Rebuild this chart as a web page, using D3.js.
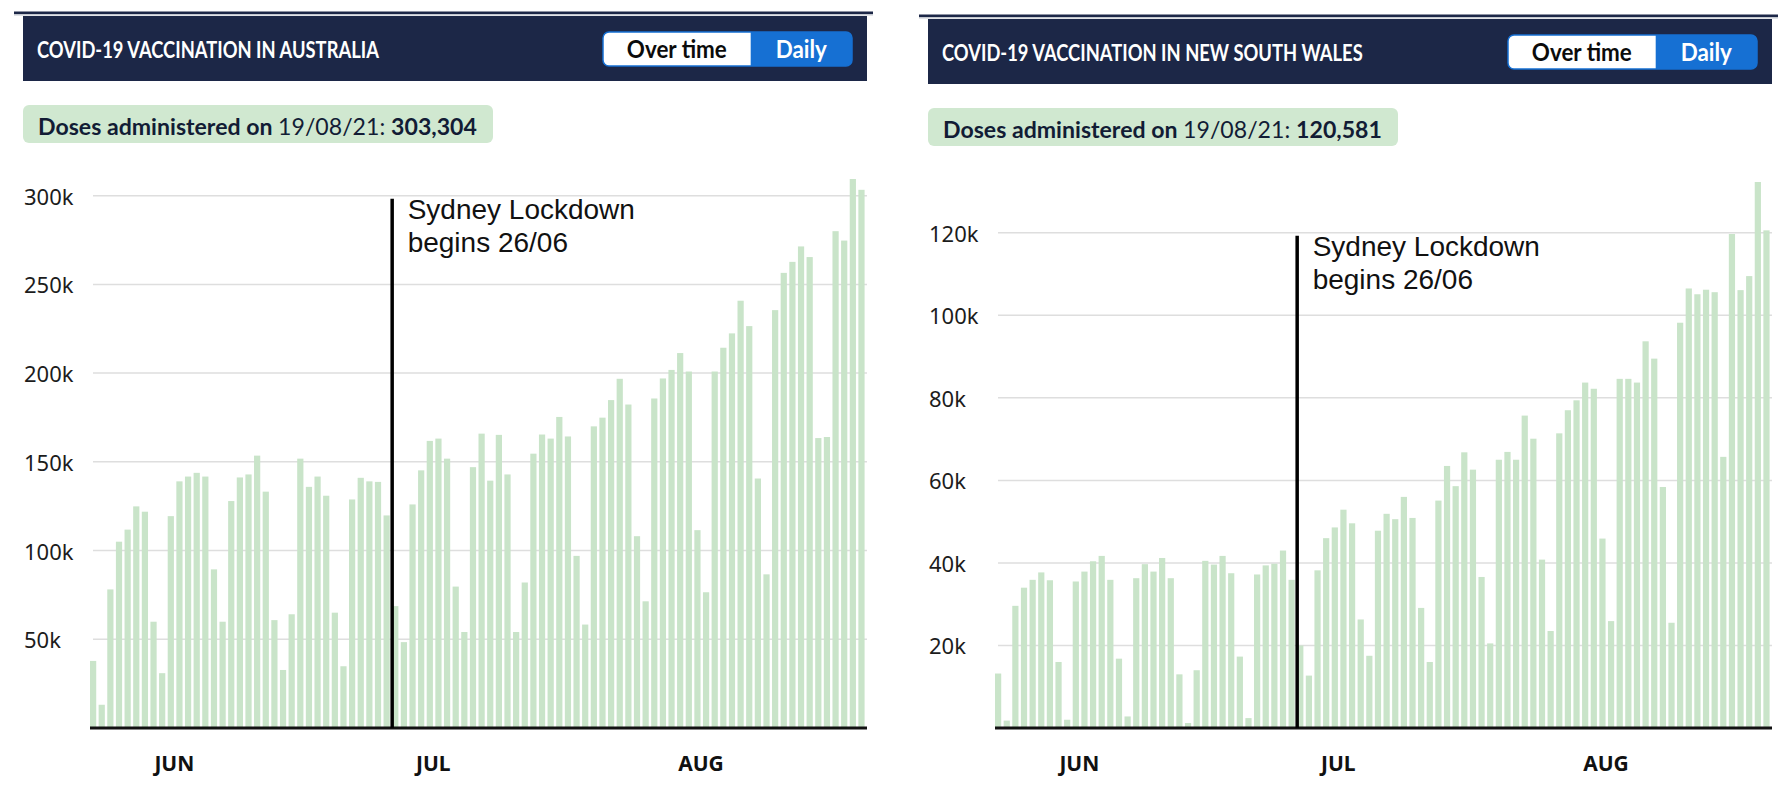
<!DOCTYPE html>
<html>
<head>
<meta charset="utf-8">
<script src="https://cdn.jsdelivr.net/npm/d3@7"></script>
<style>
  html, body { margin: 0; padding: 0; background: #fff; }
  svg { display: block; }
</style>
</head>
<body>
<div id="chart"></div>
<script>
// days shown in both charts (one bar per day)
const firstDay = new Date(2021, 4, 22);
const lastDay = new Date(2021, 7, 19);
const lockdownDay = new Date(2021, 5, 26);

const regions = ["AUSTRALIA", "NEW SOUTH WALES"];
const monthNames = ["JUN", "JUL", "AUG"];
const toggleLabels = ["Over time", "Daily"];
const lockdownNote = ["Sydney Lockdown", "begins 26/06"];

const ausTicks = [50000, 100000, 150000, 200000, 250000, 300000];
const nswTicks = [20000, 40000, 60000, 80000, 100000, 120000];

const ausDoses = [
  37800, 13100, 78100, 105000, 111800, 124900, 121900, 59900, 30900, 119400,
  139000, 141700, 143800, 141700, 89400, 59900, 127900, 141200, 142900, 153500,
  133200, 60800, 32700, 64100, 151800, 135900, 141700, 130900, 65000, 34800,
  128800, 141000, 139000, 138700, 119800, 68700, 48400, 126000, 145200, 161800,
  163100, 151800, 79700, 54100, 147000, 165900, 139400, 165200, 142900, 54100,
  82000, 154600, 165400, 163100, 175300, 164300, 97000, 58300, 170000, 174900,
  184800, 196800, 182300, 108100, 71400, 185700, 197000, 201800, 211300, 200900,
  111500, 76500, 200900, 214300, 222400, 240800, 226500, 140600, 86600, 235500,
  256500, 262700, 271400, 265400, 163400, 164000, 280000, 274700, 309400, 303304
];

const nswDoses = [
  13200, 1800, 29600, 34000, 35900, 37700, 35800, 16000, 2000, 35500,
  37900, 40400, 41700, 35900, 16800, 2800, 36300, 39700, 37900, 41200,
  36300, 13000, 1200, 14000, 40500, 39600, 41700, 37500, 17300, 2400,
  37200, 39400, 39800, 43000, 35900, 20000, 12700, 38200, 46000, 48600,
  52900, 49600, 26300, 17500, 47800, 51900, 50600, 56000, 50900, 29100,
  16000, 55100, 63500, 58600, 66800, 62600, 36600, 20500, 65000, 66900,
  65000, 75700, 70100, 40800, 23500, 71400, 77000, 79400, 83700, 82200,
  45900, 25900, 84600, 84600, 83700, 93700, 89500, 58400, 25500, 98200,
  106500, 105100, 106200, 105600, 65700, 119700, 106100, 109500, 132300, 120581
];

const days = d3.timeDay.range(firstDay, d3.timeDay.offset(lastDay, 1));

const svg = d3.select("#chart")
  .append("svg")
  .attr("width", 1790)
  .attr("height", 812);

// horizontal squeeze factors, measured on the first panel and reused on the second
const squeeze = {};

class PanelBuilder {
  constructor(root, left, top) {
    this._root = root;
    this._left = left;
    this._top = top;
    this._setDefaults();
  }

  _setDefaults() {
    this._width = 844;
    this._plotLeft = 67;
    this._baseline = 728;
    this._plotTop = 179;
    this._navy = "#1c2747";
    this._ink = "#121c35";
    this._blue = "#1670d3";
    this._green = "#c9e4c9";
    this._boxGreen = "#d0e8d0";
  }

  // squeeze a text horizontally so it takes `target` px (first time), then reuse the factor
  _fit(text, key, target, x, y, anchor) {
    const natural = text.node().getComputedTextLength();
    if (squeeze[key] === undefined) squeeze[key] = target / natural;
    const k = squeeze[key];
    const shift = anchor === "middle" ? -natural * k / 2 : 0;
    text.attr("transform", `translate(${x + shift},${y}) scale(${k},1)`);
  }

  _buildHeader(region, doses) {
    const g = this._root.append("g").attr("class", "header");
    const L = this._left, T = this._top;

    g.append("rect")
      .attr("x", L - 9).attr("y", T + 11.5)
      .attr("width", this._width + 15).attr("height", 2.5)
      .attr("fill", this._navy);
    g.append("rect")
      .attr("x", L - 9).attr("y", T + 14)
      .attr("width", this._width + 15).attr("height", 1.5)
      .attr("fill", "#c3c7cf");

    g.append("rect")
      .attr("x", L).attr("y", T + 16)
      .attr("width", this._width).attr("height", 65)
      .attr("fill", this._navy);

    const title = g.append("text")
      .attr("font-family", "Lato, 'Open Sans', sans-serif")
      .attr("font-weight", 700)
      .attr("font-size", 23)
      .attr("fill", "#fff")
      .text("COVID-19 VACCINATION IN " + region);
    this._fit(title, "title", 342, L + 14, T + 58);

    // Over time / Daily toggle
    const tx = L + 580, ty = T + 32, tw = 249, th = 34, split = 147.7, r = 6;
    g.append("rect")
      .attr("x", tx).attr("y", ty)
      .attr("width", tw).attr("height", th)
      .attr("rx", r)
      .attr("fill", this._blue);
    const path = d3.path();
    path.moveTo(tx + split, ty);
    path.lineTo(tx + r, ty);
    path.arcTo(tx, ty, tx, ty + r, r);
    path.lineTo(tx, ty + th - r);
    path.arcTo(tx, ty + th, tx + r, ty + th, r);
    path.lineTo(tx + split, ty + th);
    path.closePath();
    g.append("path").attr("d", path.toString()).attr("fill", "#fff");
    g.append("rect")
      .attr("x", tx).attr("y", ty)
      .attr("width", tw).attr("height", th)
      .attr("rx", r)
      .attr("fill", "none")
      .attr("stroke", this._blue)
      .attr("stroke-width", 1.5);

    const over = g.append("text")
      .attr("font-family", "Lato, 'Open Sans', sans-serif")
      .attr("font-weight", 700)
      .attr("font-size", 24)
      .attr("fill", "#0b0b0b")
      .text(toggleLabels[0]);
    this._fit(over, "toggle", 100, tx + split / 2, T + 57.5, "middle");
    const daily = g.append("text")
      .attr("font-family", "Lato, 'Open Sans', sans-serif")
      .attr("font-weight", 700)
      .attr("font-size", 24)
      .attr("fill", "#fff")
      .text(toggleLabels[1]);
    this._fit(daily, "toggle", 52, tx + split + (tw - split) / 2, T + 57.5, "middle");

    // doses box
    g.append("rect")
      .attr("x", L).attr("y", T + 105)
      .attr("width", 470).attr("height", 38)
      .attr("rx", 6)
      .attr("fill", this._boxGreen);
    const line = g.append("text")
      .attr("font-family", "Lato, 'Open Sans', sans-serif")
      .attr("font-size", 23)
      .attr("fill", this._ink);
    line.append("tspan").attr("font-weight", 700).text("Doses administered on ");
    line.append("tspan").attr("font-weight", 400).text(d3.timeFormat("%d/%m/%y")(lastDay) + ": ");
    line.append("tspan").attr("font-weight", 700).text(d3.format(",")(doses[doses.length - 1]));
    this._fit(line, "doses", 439, L + 15, T + 134.5);
  }

  _buildScales(doses) {
    this._x = d3.scaleTime()
      .domain([firstDay, d3.timeDay.offset(lastDay, 1)])
      .range([this._left + this._plotLeft, this._left + this._width]);
    this._step = (this._x.range()[1] - this._x.range()[0]) / days.length;
    this._y = d3.scaleLinear()
      .domain([0, d3.max(doses)])
      .range([this._baseline, this._plotTop + this._top]);
  }

  _buildGrid(ticks) {
    const g = this._root.append("g").attr("class", "grid");
    g.selectAll("line")
      .data(ticks)
      .enter()
      .append("line")
      .attr("x1", this._left + this._plotLeft + 3)
      .attr("x2", this._left + this._width)
      .attr("y1", d => this._y(d))
      .attr("y2", d => this._y(d))
      .attr("stroke", "#dedede")
      .attr("stroke-width", 1.5);

    g.selectAll("text")
      .data(ticks)
      .enter()
      .append("text")
      .attr("x", this._left + 1)
      .attr("y", d => this._y(d))
      .attr("dominant-baseline", "central")
      .attr("font-family", "'Noto Sans', sans-serif")
      .attr("font-size", 22)
      .attr("fill", "#1c1c1c")
      .text(d3.format("~s"));
  }

  _buildBars(doses) {
    this._root.append("g")
      .attr("class", "bars")
      .selectAll("rect")
      .data(days)
      .enter()
      .append("rect")
      .attr("x", d => this._x(d))
      .attr("width", this._step * 0.72)
      .attr("y", (d, i) => this._y(doses[i]))
      .attr("height", (d, i) => this._baseline - this._y(doses[i]))
      .attr("fill", this._green);
  }

  _buildAxis() {
    const g = this._root.append("g").attr("class", "x-axis");
    g.append("line")
      .attr("x1", this._left + this._plotLeft)
      .attr("x2", this._left + this._width)
      .attr("y1", this._baseline)
      .attr("y2", this._baseline)
      .attr("stroke", "#111")
      .attr("stroke-width", 3);

    g.selectAll("text")
      .data(d3.timeMonth.range(firstDay, lastDay))
      .enter()
      .append("text")
      .attr("x", d => this._x(d) - 2)
      .attr("y", 763)
      .attr("text-anchor", "middle")
      .attr("dominant-baseline", "central")
      .attr("font-family", "'Noto Sans', sans-serif")
      .attr("font-weight", 700)
      .attr("font-size", 21)
      .attr("fill", "#111")
      .text((d, i) => monthNames[i]);
  }

  _buildLockdown(ticks) {
    const g = this._root.append("g").attr("class", "lockdown");
    const x = this._x(lockdownDay);
    const top = this._y(d3.max(ticks)) + 3;
    g.append("line")
      .attr("x1", x).attr("x2", x)
      .attr("y1", top).attr("y2", this._baseline)
      .attr("stroke", "#000")
      .attr("stroke-width", 3.5);

    g.selectAll("text")
      .data(lockdownNote)
      .enter()
      .append("text")
      .attr("x", x + 15.5)
      .attr("y", (d, i) => top + 20.5 + i * 33)
      .attr("font-family", "'Liberation Sans', Arial, sans-serif")
      .attr("font-size", 28)
      .attr("fill", "#111")
      .text(d => d);
  }

  build(region, doses, ticks) {
    this._buildHeader(region, doses);
    this._buildScales(doses);
    this._buildGrid(ticks);
    this._buildBars(doses);
    this._buildAxis();
    this._buildLockdown(ticks);
  }
}

new PanelBuilder(svg, 23, 0).build(regions[0], ausDoses, ausTicks);
new PanelBuilder(svg, 928, 3).build(regions[1], nswDoses, nswTicks);
</script>
</body>
</html>
